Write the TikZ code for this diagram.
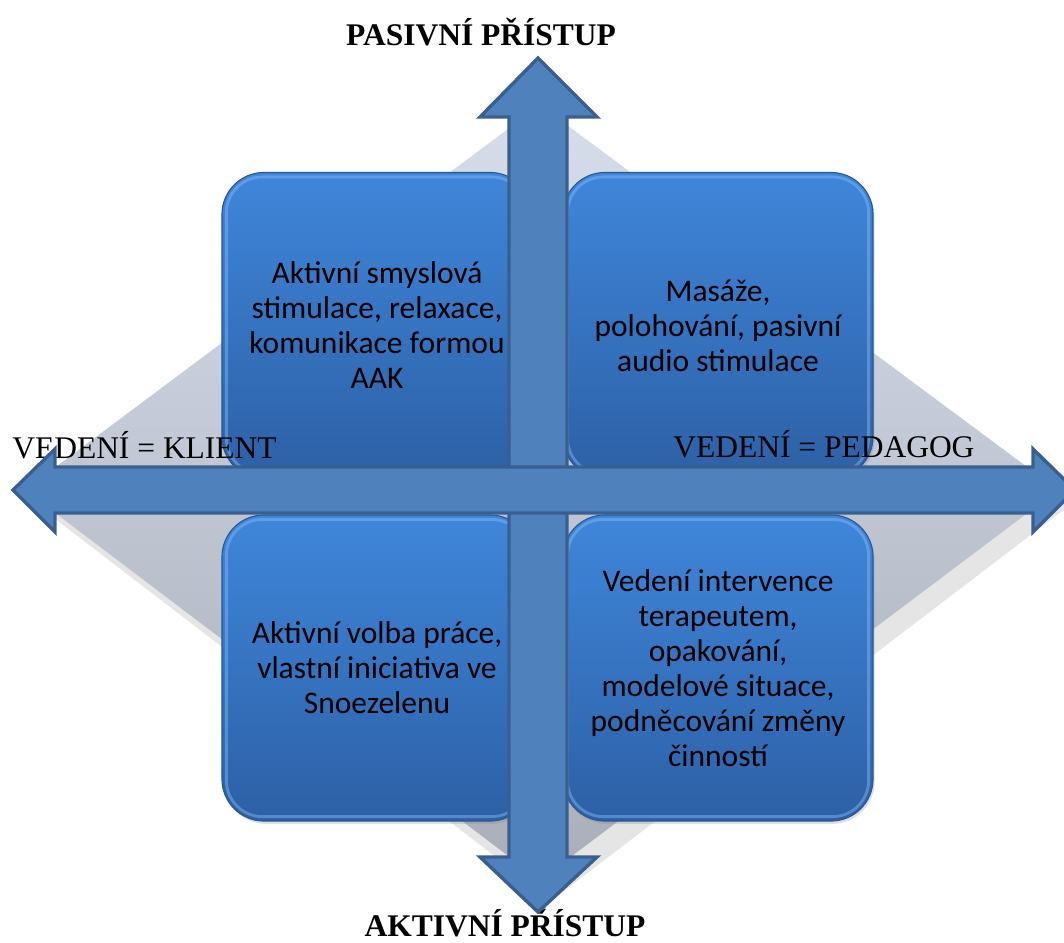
\documentclass[tikz,border=0pt]{standalone}
\usepackage{fontspec}
\setmainfont{Liberation Serif}
\newfontfamily\boxfont{Carlito}
\usetikzlibrary{calc,shadows}

\definecolor{arrowblue}{HTML}{4F81BD}
\definecolor{arrowedge}{HTML}{3A5F8E}
\definecolor{boxtop}{HTML}{3F86DA}
\definecolor{boxbottom}{HTML}{2D60A6}
\definecolor{boxedge}{HTML}{2A5896}
\definecolor{boxhi}{HTML}{86BDF5}
\definecolor{diamondtop}{HTML}{D6DDEB}
\definecolor{diamondbottom}{HTML}{AAAEBA}

\tikzset{
  quadbox/.style={draw=boxedge, line width=0.8pt, rounded corners=1.05cm,
    top color=boxtop, bottom color=boxbottom, minimum width=7.75cm,
    minimum height=7.65cm, align=center, inner sep=0pt,
    font=\boxfont\fontsize{22.4}{24.9}\selectfont,
    drop shadow={opacity=0.25, shadow xshift=0.04cm, shadow yshift=-0.07cm}},
  rim/.style={draw=boxhi, opacity=0.45, line width=2pt, rounded corners=0.9cm},
  axislabel/.style={inner sep=0pt, font=\fontsize{22.4}{26}\selectfont},
  axisarrow/.style={fill=arrowblue, draw=arrowedge, line width=2.4pt, line join=miter}
}

\begin{document}
\begin{tikzpicture}[x=0.025cm, y=-0.025cm]
  \useasboundingbox (0,0) rectangle (1064,942);

  % diamond behind the grid
  \fill[black, opacity=0.1] (552,120) -- (1070,505) -- (552,900) -- (37,505) -- cycle;
  \shade[top color=diamondtop, bottom color=diamondbottom]
    (540,105) -- (1058,490) -- (540,880) -- (25,490) -- cycle;

  % four quadrants
  \node[quadbox] (tl) at (377,325.5) {Aktivní smyslová\\stimulace, relaxace,\\komunikace formou\\AAK};
  \node[quadbox] (tr) at (718,325.5) {Masáže,\\polohování, pasivní\\audio stimulace};
  \node[quadbox] (bl) at (377,668) {Aktivní volba práce,\\vlastní iniciativa ve\\Snoezelenu};
  \node[quadbox] (br) at (718,668) {Vedení intervence\\terapeutem,\\opakování,\\modelové situace,\\podněcování změny\\činností};
  \foreach \q in {tl,tr,bl,br}
    \draw[rim] ([shift={(5,-5)}]\q.south west) rectangle ([shift={(-5,5)}]\q.north east);

  % axis labels
  \node[axislabel, anchor=base] (pasivni) at (481,45) {\textbf{PASIVNÍ PŘÍSTUP}};
  \node[axislabel, anchor=base] (aktivni) at (505,936) {\textbf{AKTIVNÍ PŘÍSTUP}};
  \node[axislabel, anchor=base west] (klient) at (12,458) {VEDENÍ = KLIENT};
  \node[axislabel, anchor=base west] (pedagog) at (673,457) {VEDENÍ = PEDAGOG};

  % the two axes
  \draw[axisarrow] (538,58) -- (597,117) -- (567,117) -- (567,857) -- (597,857)
    -- (538,912) -- (480,857) -- (509,857) -- (509,117) -- (480,117) -- cycle;
  \draw[axisarrow] (13,490) -- (55,449) -- (55,467) -- (1033,467) -- (1033,449)
    -- (1075,490) -- (1033,532) -- (1033,513) -- (55,513) -- (55,532) -- cycle;
\end{tikzpicture}
\end{document}
